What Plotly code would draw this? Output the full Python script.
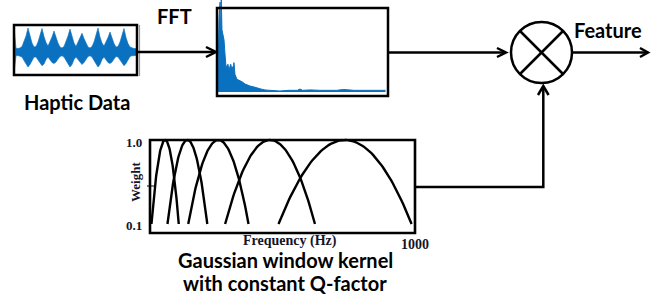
import math
import plotly.graph_objects as go

# Reference picture size
W, H = 667, 303

# ---------------- data ----------------
# Haptic signal envelope: sample index and normalised amplitude (upper / lower)
HAPTIC_T = list(range(0, 124, 2))
HAPTIC_UPPER = [1.0, 0.15, 0.14, 0.16, 0.22, 0.4, 0.64, 0.96, 0.6, 0.36,
                0.2, 0.22, 0.4, 0.66, 0.94, 0.62, 0.38, 0.24, 0.4, 0.6,
                0.84, 0.58, 0.36, 0.2, 0.16, 0.22, 0.4, 0.64, 0.92, 0.6,
                0.36, 0.22, 0.38, 0.56, 0.75, 0.54, 0.34, 0.2, 0.16, 0.22,
                0.4, 0.66, 0.96, 0.6, 0.36, 0.24, 0.38, 0.58, 0.8, 0.56,
                0.34, 0.2, 0.22, 0.4, 0.64, 0.94, 0.58, 0.34, 0.2, 0.16,
                0.14, 0.14]
HAPTIC_LOWER = [-0.84, -0.15, -0.14, -0.16, -0.2, -0.34, -0.5, -0.6, -0.5, -0.32,
                -0.2, -0.2, -0.32, -0.48, -0.55, -0.48, -0.3, -0.2, -0.3, -0.42,
                -0.46, -0.4, -0.28, -0.18, -0.15, -0.2, -0.34, -0.5, -0.6, -0.5,
                -0.3, -0.2, -0.3, -0.44, -0.5, -0.42, -0.28, -0.18, -0.15, -0.2,
                -0.34, -0.5, -0.6, -0.5, -0.3, -0.2, -0.3, -0.42, -0.46, -0.4,
                -0.28, -0.18, -0.2, -0.32, -0.48, -0.55, -0.46, -0.3, -0.18, -0.15,
                -0.14, -0.14]

# FFT magnitude spectrum (Hz, normalised magnitude)
FFT_FREQ = [0, 6, 12, 18, 22, 25, 29, 35, 41, 45,
            50, 53, 58, 64, 70, 76, 80, 85, 90, 94,
            99, 105, 109, 117, 129, 140, 148, 164, 177, 193,
            216, 240, 256, 281, 310, 368, 420, 470, 485, 500,
            545, 600, 700, 740, 800, 900, 985]
FFT_AMP = [0.3, 0.26, 0.86, 1.07, 0.5, 1.1, 0.74, 0.69, 0.62, 0.5,
           0.36, 0.29, 0.31, 0.33, 0.26, 0.31, 0.33, 0.29, 0.30, 0.24,
           0.35, 0.21, 0.18, 0.15, 0.14, 0.13, 0.12, 0.095, 0.083, 0.071,
           0.06, 0.042, 0.036, 0.024, 0.018, 0.012, 0.02, 0.02, 0.035, 0.02,
           0.025, 0.02, 0.02, 0.03, 0.02, 0.02, 0.02]

# Gaussian window kernels with constant Q (centre Hz, sigma Hz)
KERNEL_CENTER_HZ = [57, 141, 258, 453, 736]
KERNEL_SIGMA_HZ = [24, 35, 53, 79, 117]
WEIGHT_MIN = 0.1

# labels
LBL_HAPTIC = "Haptic Data"
LBL_FFT = "FFT"
LBL_FEATURE = "Feature"
LBL_KERNEL_1 = "Gaussian window kernel"
LBL_KERNEL_2 = "with constant Q-factor"
LBL_WEIGHT = "Weight"
LBL_FREQ = "Frequency (Hz)"
TICK_TOP, TICK_BOTTOM, TICK_RIGHT = "1.0", "0.1", "1000"

BLUE = "#0a70c0"

# ---------------- helpers (reference pixel -> paper) ----------------
def px(x):
    return x / W

def py(y):
    return 1 - y / H

def seg(x0, y0, x1, y1, w=2.5, color="black"):
    return dict(type="line", xref="paper", yref="paper",
                x0=px(x0), y0=py(y0), x1=px(x1), y1=py(y1),
                line=dict(color=color, width=w), layer="above")

def rect(x0, y0, x1, y1, w=2.5):
    return dict(type="rect", xref="paper", yref="paper",
                x0=px(x0), y0=py(y0), x1=px(x1), y1=py(y1),
                line=dict(color="black", width=w), layer="above")

def chevron(a, b, c, w=2.5):
    path = "M {},{} L {},{} L {},{}".format(px(a[0]), py(a[1]), px(b[0]), py(b[1]),
                                            px(c[0]), py(c[1]))
    return dict(type="path", xref="paper", yref="paper", path=path,
                line=dict(color="black", width=w), layer="above")

fig = go.Figure()

# Haptic waveform
fig.add_trace(go.Scatter(x=HAPTIC_T, y=HAPTIC_UPPER, mode="lines",
                         line=dict(color=BLUE, width=0.6), xaxis="x", yaxis="y",
                         showlegend=False, hoverinfo="skip"))
fig.add_trace(go.Scatter(x=HAPTIC_T, y=HAPTIC_LOWER, mode="lines", fill="tonexty",
                         fillcolor=BLUE, line=dict(color=BLUE, width=0.6),
                         xaxis="x", yaxis="y", showlegend=False, hoverinfo="skip"))

# FFT spectrum
fig.add_trace(go.Scatter(x=FFT_FREQ, y=FFT_AMP, mode="lines", fill="tozeroy",
                         fillcolor=BLUE, line=dict(color=BLUE, width=1),
                         xaxis="x2", yaxis="y2", showlegend=False, hoverinfo="skip"))

# Gaussian kernels
for c, s in zip(KERNEL_CENTER_HZ, KERNEL_SIGMA_HZ):
    half = s * math.sqrt(-2 * math.log(WEIGHT_MIN))
    n = 80
    fx = [c - half + 2 * half * i / (n - 1) for i in range(n)]
    wy = [math.exp(-((f - c) ** 2) / (2 * s * s)) for f in fx]
    fig.add_trace(go.Scatter(x=fx, y=wy, mode="lines",
                             line=dict(color="black", width=2.4),
                             xaxis="x3", yaxis="y3", showlegend=False, hoverinfo="skip"))

hidden = dict(visible=False, showgrid=False, zeroline=False, fixedrange=True)

fig.update_layout(
    width=W, height=H, margin=dict(l=0, r=0, t=0, b=0),
    paper_bgcolor="white", plot_bgcolor="rgba(0,0,0,0)",
    xaxis=dict(domain=[px(14), px(137)], range=[0, 123], anchor="y", **hidden),
    yaxis=dict(domain=[py(77), py(27)], range=[-1, 1], anchor="x", **hidden),
    xaxis2=dict(domain=[px(217), px(388)], range=[0, 1000], anchor="y2", **hidden),
    yaxis2=dict(domain=[py(96), py(0)], range=[-4 / 84, 92 / 84], anchor="x2", **hidden),
    xaxis3=dict(domain=[px(150), px(415)], range=[0, 1000], anchor="y3", **hidden),
    yaxis3=dict(domain=[py(233), py(138)], type="log", range=[-1 - 9 / 84, 2 / 84],
                anchor="x3", **hidden),
)

shapes = []
# haptic box
shapes.append(rect(14, 25, 137, 75))
shapes.append(seg(139.5, 25, 139.5, 76, w=1.2, color="#9a9a9a"))
# FFT box
shapes.append(rect(217, 8, 388, 96))
# kernel box
shapes.append(rect(150, 140, 415, 233, w=2.6))
shapes.append(seg(147, 186, 156, 186, w=1))
# connector haptic -> FFT
shapes.append(seg(138, 52, 215, 52))
shapes.append(chevron((206, 47), (216, 52), (206, 57)))
# connector FFT -> multiplier
shapes.append(seg(388, 52.5, 505, 52.5))
shapes.append(chevron((497, 48), (506, 52.5), (497, 57)))
# multiplier circle
shapes.append(dict(type="circle", xref="paper", yref="paper",
                   x0=px(511), x1=px(572), y0=py(22), y1=py(83),
                   line=dict(color="black", width=2.5), layer="above"))
shapes.append(seg(520, 31, 563, 74))
shapes.append(seg(563, 31, 520, 74))
# output arrow
shapes.append(seg(572, 52.5, 647, 52.5))
shapes.append(chevron((640, 48), (648, 52.5), (640, 57)))
# kernel -> multiplier
shapes.append(dict(type="path", xref="paper", yref="paper",
                   path="M {},{} L {},{} L {},{}".format(px(415), py(187), px(543.3), py(187),
                                                         px(543.3), py(86)),
                   line=dict(color="black", width=2.5), layer="above"))
shapes.append(chevron((538, 95), (543.3, 86), (548.6, 95)))
fig.update_layout(shapes=shapes)

sans = "Lato, 'Open Sans', sans-serif"
serif = "'Liberation Serif', 'DejaVu Serif', serif"

def label(text, x, y, size, family, angle=0, color="black"):
    fig.add_annotation(text="<b>{}</b>".format(text), xref="paper", yref="paper",
                       x=px(x), y=py(y), xanchor="center", yanchor="middle",
                       showarrow=False, textangle=angle,
                       font=dict(family=family, size=size, color=color))

label(LBL_HAPTIC, 77, 102, 20, sans)
label(LBL_FFT, 175, 16, 20, sans)
label(LBL_FEATURE, 608, 30, 20, sans)
label(LBL_KERNEL_1, 285, 260, 20, sans)
label(LBL_KERNEL_2, 285, 283, 20, sans)
label(TICK_TOP, 134, 142, 13, serif, color="#141428")
label(TICK_BOTTOM, 134, 225, 13, serif, color="#141428")
label(LBL_WEIGHT, 135, 182, 13, serif, angle=-90, color="#141428")
label(LBL_FREQ, 290, 241, 14, serif, color="#141428")
label(TICK_RIGHT, 415, 244, 14, serif, color="#141428")

# remove the default page margin so the figure fills the window exactly
fig.write_html("out.html",
               config={"displayModeBar": False, "staticPlot": True},
               post_script="document.body.style.margin='0';document.body.style.overflow='hidden';")
